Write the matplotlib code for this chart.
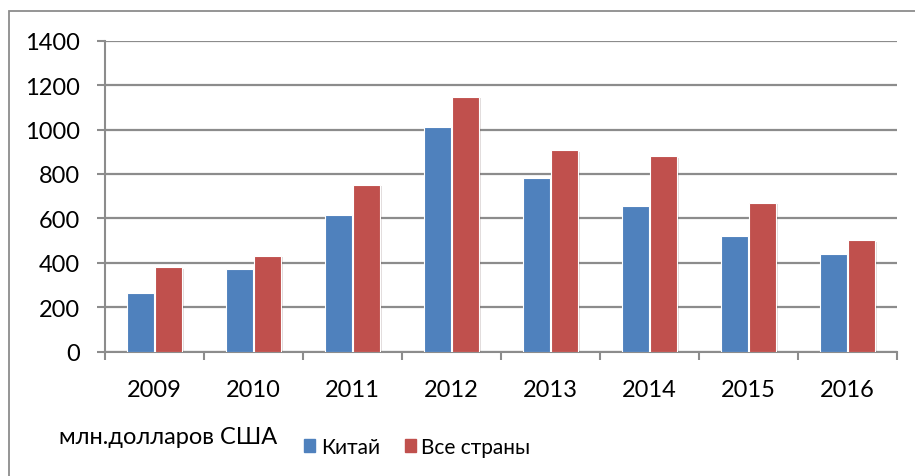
import numpy as np
import matplotlib
matplotlib.use('Agg')
import matplotlib.pyplot as plt
from matplotlib.patches import Patch, Rectangle
import matplotlib.patheffects as pe

plt.rcParams.update({'font.family': ['Lato', 'DejaVu Sans'], 'font.size': 17})

years = ['2009', '2010', '2011', '2012', '2013', '2014', '2015', '2016']
china = [264, 371, 616, 1013, 780, 655, 520, 441]
all_countries = [380, 431, 752, 1148, 907, 880, 671, 501]
unit_label = 'млн.долларов США'
series_names = ['Китай', 'Все страны']

BLUE = '#4F81BD'
RED = '#C0504D'
GRID = '#8C8C8C'

W, H = 915, 477
fig = plt.figure(figsize=(W / 100, H / 100), dpi=100)
ax = fig.add_axes([105 / W, 1 - 352.7 / H, (897 - 105) / W, (352.7 - 41.7) / H])

x = np.arange(len(years))
bw = 0.27
shadow = [pe.SimplePatchShadow(offset=(1.5, -1), alpha=0.15), pe.Normal()]
ax.bar(x - 0.14, china, bw, color=BLUE, edgecolor='white', linewidth=0.8,
       path_effects=shadow, zorder=3)
ax.bar(x + 0.14, all_countries, bw, color=RED, edgecolor='white', linewidth=0.8,
       path_effects=shadow, zorder=3)

ax.set_xlim(-0.5, len(years) - 0.5)
ax.set_ylim(0, 1400)
ax.set_yticks(range(0, 1401, 200))
ax.set_xticks(x)
ax.set_xticklabels(years)
ax.set_xticks(np.arange(-0.5, len(years), 1), minor=True)
ax.tick_params(axis='x', which='major', length=0, pad=20)
ax.tick_params(axis='x', which='minor', length=6, width=1.5, color=GRID)
ax.tick_params(axis='y', length=6, width=1.5, color=GRID, pad=12)

ax.grid(axis='y', color=GRID, lw=1.6, zorder=0)
ax.set_axisbelow(True)
for s in ['top', 'right']:
    ax.spines[s].set_visible(False)
for s in ['left', 'bottom']:
    ax.spines[s].set_color(GRID)
    ax.spines[s].set_linewidth(1.5)

# outer chart border
fig.patches.append(Rectangle((9 / W, -0.1), 1.2, 1 - 12 / H + 0.1,
                             transform=fig.transFigure, fill=False,
                             edgecolor='#8C8C8C', lw=1.3))

fig.text(59 / W, 1 - 438 / H, unit_label, ha='left', va='center', fontsize=17)
handles = [Patch(color=BLUE), Patch(color=RED)]
fig.legend(handles, series_names, loc='center left', ncol=2, frameon=False,
           bbox_to_anchor=(304 / W, 1 - 448 / H), borderpad=0, borderaxespad=0,
           handlelength=0.55, handleheight=0.55, handletextpad=0.25,
           columnspacing=1.2, fontsize=15)

plt.savefig('out.png')
